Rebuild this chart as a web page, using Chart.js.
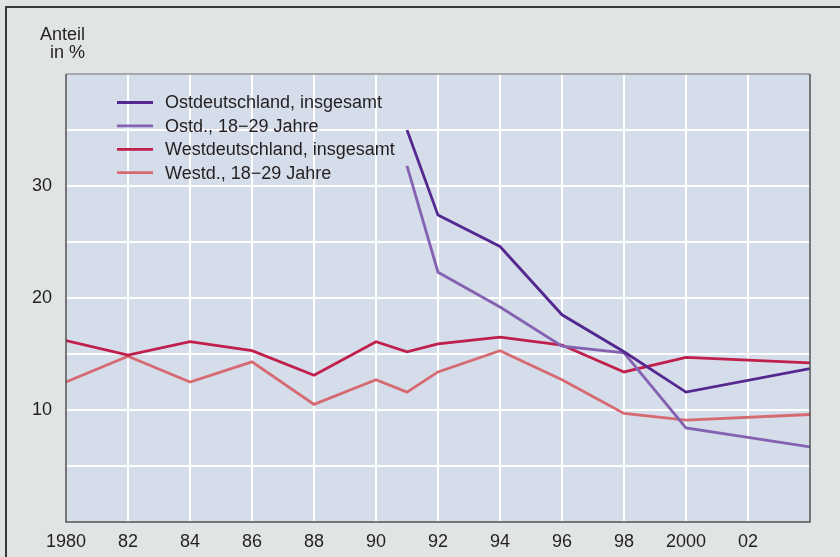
<!DOCTYPE html>
<html>
<head>
<meta charset="utf-8">
<script src="https://cdn.jsdelivr.net/npm/chart.js@4"></script>
<style>
  html, body { margin: 0; padding: 0; background: #e1e4e5; }
  #wrap { width: 840px; height: 557px; }
</style>
</head>
<body>
<div id="wrap"><canvas id="theCanvas"></canvas></div>
<script>
// Jahre und Anteile in %
var years = [1980, 1982, 1984, 1986, 1988, 1990, 1991, 1992, 1994, 1996, 1998, 2000, 2004];
var ostGesamt  = [null, null, null, null, null, null, 35.0, 27.4, 24.6, 18.5, 15.2, 11.6, 13.7];
var ost1829    = [null, null, null, null, null, null, 31.8, 22.3, 19.2, 15.7, 15.1, 8.4, 6.7];
var westGesamt = [16.2, 14.9, 16.1, 15.3, 13.1, 16.1, 15.2, 15.9, 16.5, 15.8, 13.4, 14.7, 14.2];
var west1829   = [12.5, 14.8, 12.5, 14.3, 10.5, 12.7, 11.6, 13.4, 15.3, 12.7, 9.7, 9.1, 9.6];

var seriesNames = ['Ostdeutschland, insgesamt', 'Ostd., 18\u221229 Jahre', 'Westdeutschland, insgesamt', 'Westd., 18\u221229 Jahre'];
var xTickLabels = ['1980', '82', '84', '86', '88', '90', '92', '94', '96', '98', '2000', '02', ''];
var yTickLabels = { 10: '10', 20: '20', 30: '30' };

var FONT = '"Liberation Sans", Arial, Helvetica, sans-serif';
var TEXT = '#231f20';

function points(vals) {
    var pts = [];
    for (var i = 0; i < years.length; i++) {
        if (vals[i] !== null) pts.push({ x: years[i], y: vals[i] });
    }
    return pts;
}

function ds(label, vals, color) {
    return {
        label: label,
        data: points(vals),
        borderColor: color,
        backgroundColor: color,
        borderWidth: 2.8,
        pointRadius: 0,
        tension: 0,
        fill: false
    };
}

// hintergrund, rahmen, achsentitel und legende
var decor = {
    id: 'decor',
    beforeDraw: function(chart) {
        var c = chart.ctx, a = chart.chartArea;
        c.save();
        c.fillStyle = '#e1e4e5';
        c.fillRect(0, 0, chart.width, chart.height);
        c.strokeStyle = '#3a3a3a';
        c.lineWidth = 2;
        c.beginPath();
        c.moveTo(6, chart.height);
        c.lineTo(6, 7);
        c.lineTo(chart.width, 7);
        c.stroke();
        c.fillStyle = '#d5dcea';
        c.fillRect(a.left, a.top, a.right - a.left, a.bottom - a.top);
        c.restore();
    },
    afterDraw: function(chart) {
        var c = chart.ctx, a = chart.chartArea;
        c.save();
        // plot frame
        c.lineWidth = 1.5;
        c.strokeStyle = '#8a8d90';
        c.beginPath();
        c.moveTo(a.left, a.top);
        c.lineTo(a.right, a.top);
        c.stroke();
        c.strokeStyle = '#4a4a4a';
        c.beginPath();
        c.moveTo(a.left, a.top);
        c.lineTo(a.left, a.bottom);
        c.lineTo(a.right, a.bottom);
        c.lineTo(a.right, a.top);
        c.stroke();

        c.fillStyle = TEXT;
        c.font = '18px ' + FONT;
        c.textAlign = 'right';
        c.textBaseline = 'alphabetic';
        c.fillText('Anteil', 85, 40);
        c.fillText('in %', 85, 58);

        // legend
        c.textAlign = 'left';
        c.textBaseline = 'middle';
        var sets = chart.data.datasets;
        for (var i = 0; i < sets.length; i++) {
            var y = 102.5 + i * 23.4;
            c.strokeStyle = sets[i].borderColor;
            c.lineWidth = 2.8;
            c.beginPath();
            c.moveTo(117, y);
            c.lineTo(153, y);
            c.stroke();
            c.fillStyle = TEXT;
            c.fillText(sets[i].label, 165, y + 1);
        }
        c.restore();
    }
};

var ctx = document.getElementById('theCanvas');

var myChart = new Chart(ctx, {
    type: 'line',
    data: {
        datasets: [
            ds(seriesNames[0], ostGesamt, '#55288f'),
            ds(seriesNames[1], ost1829, '#8462b1'),
            ds(seriesNames[2], westGesamt, '#c01f4b'),
            ds(seriesNames[3], west1829, '#d56a70')
        ]
    },
    options: {
        responsive: true,
        maintainAspectRatio: false,
        animation: false,
        layout: { padding: { left: 0, right: 30, top: 74, bottom: 0 } },
        plugins: {
            legend: { display: false },
            tooltip: { enabled: false }
        },
        scales: {
            x: {
                type: 'linear',
                min: 1980,
                max: 2004,
                afterFit: function(s) { s.height = 35; },
                afterBuildTicks: function(s) {
                    var t = [];
                    for (var v = 1980; v <= 2004; v += 2) t.push({ value: v });
                    s.ticks = t;
                },
                ticks: {
                    autoSkip: false,
                    maxRotation: 0,
                    padding: 9,
                    color: TEXT,
                    font: { family: FONT, size: 18 },
                    callback: function(v) { return xTickLabels[(v - 1980) / 2]; }
                },
                grid: { color: '#ffffff', lineWidth: 2, drawTicks: false },
                border: { display: false }
            },
            y: {
                min: 0,
                max: 40,
                afterFit: function(s) { s.width = 66; },
                ticks: {
                    stepSize: 5,
                    padding: 14,
                    color: TEXT,
                    font: { family: FONT, size: 18 },
                    callback: function(v) { return yTickLabels[v] || ''; }
                },
                grid: { color: '#ffffff', lineWidth: 2, drawTicks: false },
                border: { display: false }
            }
        }
    },
    plugins: [decor]
});
</script>
</body>
</html>
